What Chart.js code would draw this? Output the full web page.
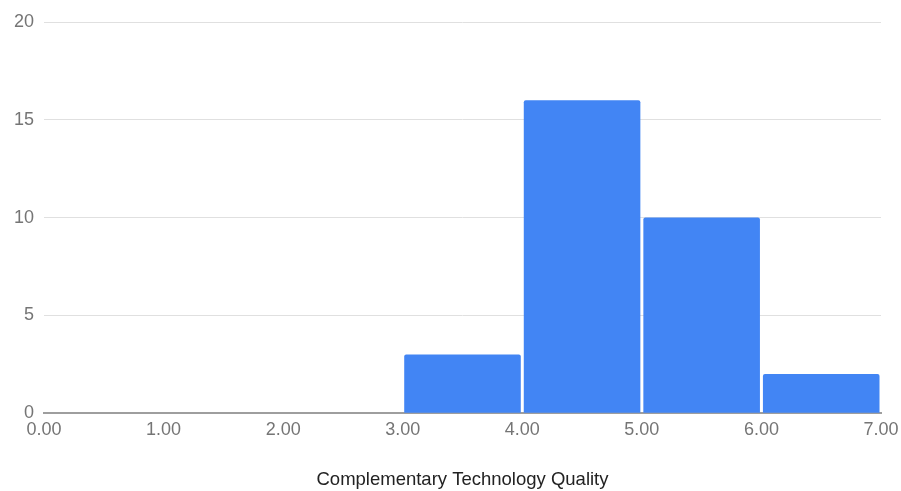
<!DOCTYPE html>
<html>
<head>
<meta charset="utf-8">
<script src="https://cdn.jsdelivr.net/npm/chart.js@4"></script>
<style>
  html, body { margin: 0; padding: 0; background: #ffffff; }
  #wrap { width: 901px; height: 491px; }
</style>
</head>
<body>
<div id="wrap"><canvas id="hist" width="901" height="491"></canvas></div>
<script>
// Histogram buckets (lower bound of each bucket, width 1) and their counts
const bucketStarts = [0, 1, 2, 3, 4, 5, 6];
const bucketCounts = [0, 0, 0, 3, 16, 10, 2];
const bucketWidth = 1;
const xTicks = [0, 1, 2, 3, 4, 5, 6, 7];
const yTicks = [0, 5, 10, 15, 20];
const axisTitle = 'Complementary Technology Quality';

const points = bucketStarts.map((s, i) => ({ x: s + bucketWidth / 2, y: bucketCounts[i] }));

const labelFont = { family: "'Liberation Sans', Arial, sans-serif", size: 18 };

new Chart(document.getElementById('hist'), {
  type: 'bar',
  data: {
    datasets: [{
      data: points,
      backgroundColor: '#4285F4',
      borderWidth: 0,
      borderRadius: { topLeft: 2, topRight: 2, bottomLeft: 0, bottomRight: 0 },
      borderSkipped: 'bottom',
      barPercentage: 0.975,
      categoryPercentage: 1
    }]
  },
  options: {
    responsive: false,
    animation: false,
    layout: { padding: { left: 0, right: 20, top: 22, bottom: 0 } },
    plugins: { legend: { display: false }, tooltip: { enabled: false } },
    scales: {
      x: {
        type: 'linear',
        min: xTicks[0],
        max: xTicks[xTicks.length - 1],
        offset: false,
        afterBuildTicks: (scale) => { scale.ticks = xTicks.map(v => ({ value: v })); },
        afterFit: (scale) => { scale.paddingLeft = 0; scale.paddingRight = 0; },
        ticks: {
          callback: (v) => Number(v).toFixed(2),
          color: '#757575',
          font: labelFont,
          padding: 6,
          maxRotation: 0,
          autoSkip: false
        },
        grid: { display: false, drawTicks: false },
        border: { display: true, color: '#9e9e9e', width: 2 },
        title: {
          display: true,
          text: axisTitle,
          color: '#222222',
          font: { family: "'Liberation Sans', Arial, sans-serif", size: 18.5 },
          padding: { top: 22, bottom: 0 }
        }
      },
      y: {
        min: yTicks[0],
        max: yTicks[yTicks.length - 1],
        afterBuildTicks: (scale) => { scale.ticks = yTicks.map(v => ({ value: v })); },
        afterFit: (scale) => { scale.width = 44; scale.paddingTop = 0; scale.paddingBottom = 0; },
        ticks: {
          color: '#757575',
          font: labelFont,
          padding: 10
        },
        grid: { color: '#e0e0e0', lineWidth: 1, drawTicks: false },
        border: { display: false }
      }
    }
  }
});
</script>
</body>
</html>
